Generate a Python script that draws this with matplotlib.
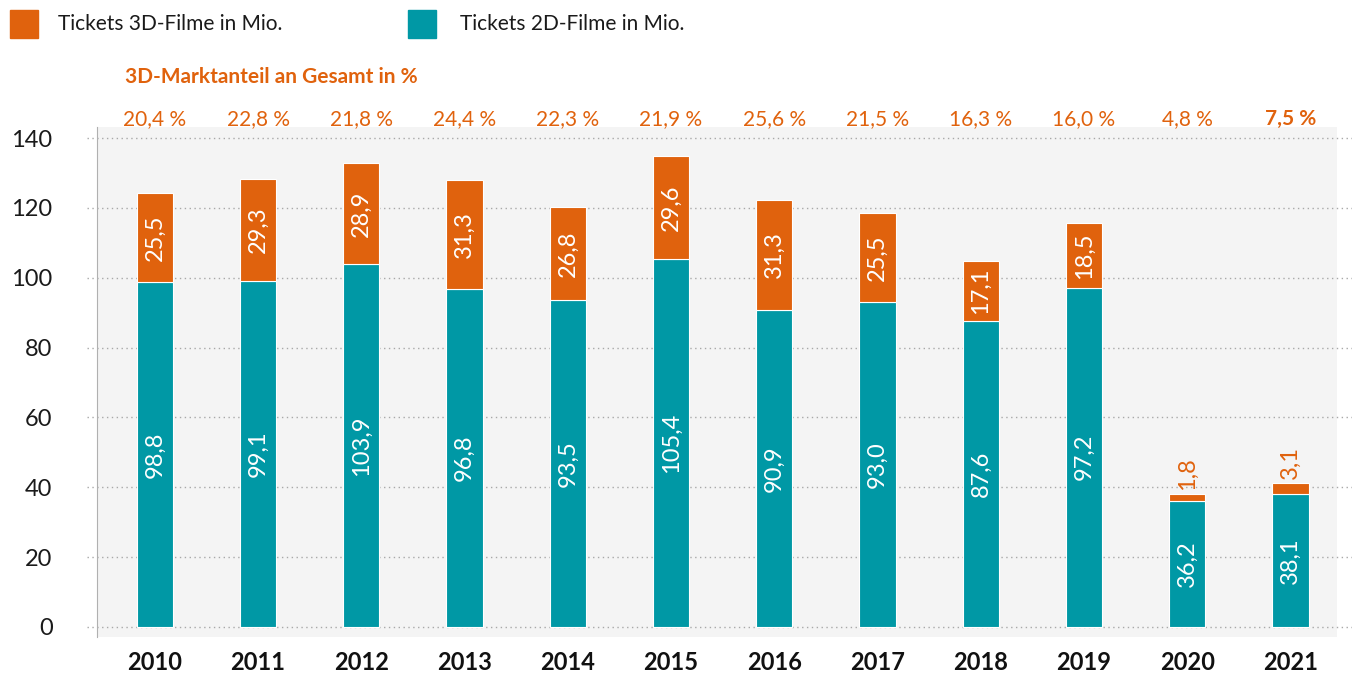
import matplotlib.pyplot as plt
from matplotlib.lines import Line2D

# Daten
jahre = ['2010', '2011', '2012', '2013', '2014', '2015', '2016', '2017', '2018', '2019', '2020', '2021']
tickets_2d = [98.8, 99.1, 103.9, 96.8, 93.5, 105.4, 90.9, 93.0, 87.6, 97.2, 36.2, 38.1]
tickets_3d = [25.5, 29.3, 28.9, 31.3, 26.8, 29.6, 31.3, 25.5, 17.1, 18.5, 1.8, 3.1]
anteil_3d = ['20,4 %', '22,8 %', '21,8 %', '24,4 %', '22,3 %', '21,9 %',
             '25,6 %', '21,5 %', '16,3 %', '16,0 %', '4,8 %', '7,5 %']
y_ticks = [0, 20, 40, 60, 80, 100, 120, 140]

orange = '#E0620D'
teal = '#0098A5'
schrift = 'Lato'

plt.rcParams['font.family'] = [schrift, 'DejaVu Sans']

fig = plt.figure(figsize=(13.52, 6.8), dpi=100)
ax = fig.add_axes([97 / 1352, 1 - 637 / 680, (1337 - 97) / 1352, (637 - 127) / 680])
ax.set_facecolor('#F4F4F4')

x = list(range(len(jahre)))
breite = 0.35
ax.bar(x, tickets_2d, width=breite, color=teal, edgecolor='white', linewidth=0.8, zorder=3)
ax.bar(x, tickets_3d, width=breite, bottom=tickets_2d, color=orange, edgecolor='white', linewidth=0.8, zorder=3)

ax.set_xlim(-0.56, 11.45)
ax.set_ylim(-2.9, 143.2)

# gepunktete Gitterlinien, etwas breiter als die Achse
for t in y_ticks:
    ax.add_line(Line2D([-0.66, 11.6], [t, t], color='#A8A8A8', linestyle=(0, (1, 2.5)),
                       linewidth=1, clip_on=False, zorder=1))

for s in ['top', 'right', 'bottom']:
    ax.spines[s].set_visible(False)
ax.spines['left'].set_color('#B0B0B0')

ax.set_yticks(y_ticks)
ax.set_yticklabels([str(t) for t in y_ticks], fontsize=17, color='#1A1A1A')
ax.tick_params(axis='y', length=0, pad=32)
ax.set_xticks(x)
ax.set_xticklabels(jahre, fontsize=17, fontweight='bold', color='#111111')
ax.tick_params(axis='x', length=0, pad=10)

# Werte in den Balken
for i in x:
    ax.text(i, tickets_2d[i] / 2, f'{tickets_2d[i]:.1f}'.replace('.', ','), rotation=90,
            ha='center', va='center', color='white', fontsize=17, zorder=4)
    wert_3d = f'{tickets_3d[i]:.1f}'.replace('.', ',')
    if tickets_3d[i] > 10:
        ax.text(i, tickets_2d[i] + tickets_3d[i] / 2, wert_3d, rotation=90,
                ha='center', va='center', color='white', fontsize=17, zorder=4)
    else:
        ax.text(i, tickets_2d[i] + tickets_3d[i] + 1.2, wert_3d, rotation=90,
                ha='center', va='bottom', color=orange, fontsize=17, zorder=4)

# 3D-Marktanteil oben
for i in x:
    ax.text(i, 145.6, anteil_3d[i], ha='center', va='center', color=orange, fontsize=15,
            fontweight='bold' if i == len(jahre) - 1 else 'normal', clip_on=False)
fig.text(125 / 1352, 1 - 77 / 680, '3D-Marktanteil an Gesamt in %', color=orange,
         fontsize=15, fontweight='bold', va='center', ha='left')

# Legende
fig.patches.append(plt.Rectangle((10 / 1352, 1 - 38 / 680), 28 / 1352, 28 / 680,
                                 transform=fig.transFigure, color=orange))
fig.text(58 / 1352, 1 - 24 / 680, 'Tickets 3D-Filme in Mio.', fontsize=15, va='center', color='#1A1A1A')
fig.patches.append(plt.Rectangle((408 / 1352, 1 - 38 / 680), 28 / 1352, 28 / 680,
                                 transform=fig.transFigure, color=teal))
fig.text(460 / 1352, 1 - 24 / 680, 'Tickets 2D-Filme in Mio.', fontsize=15, va='center', color='#1A1A1A')

fig.savefig('out.png', dpi=100)
